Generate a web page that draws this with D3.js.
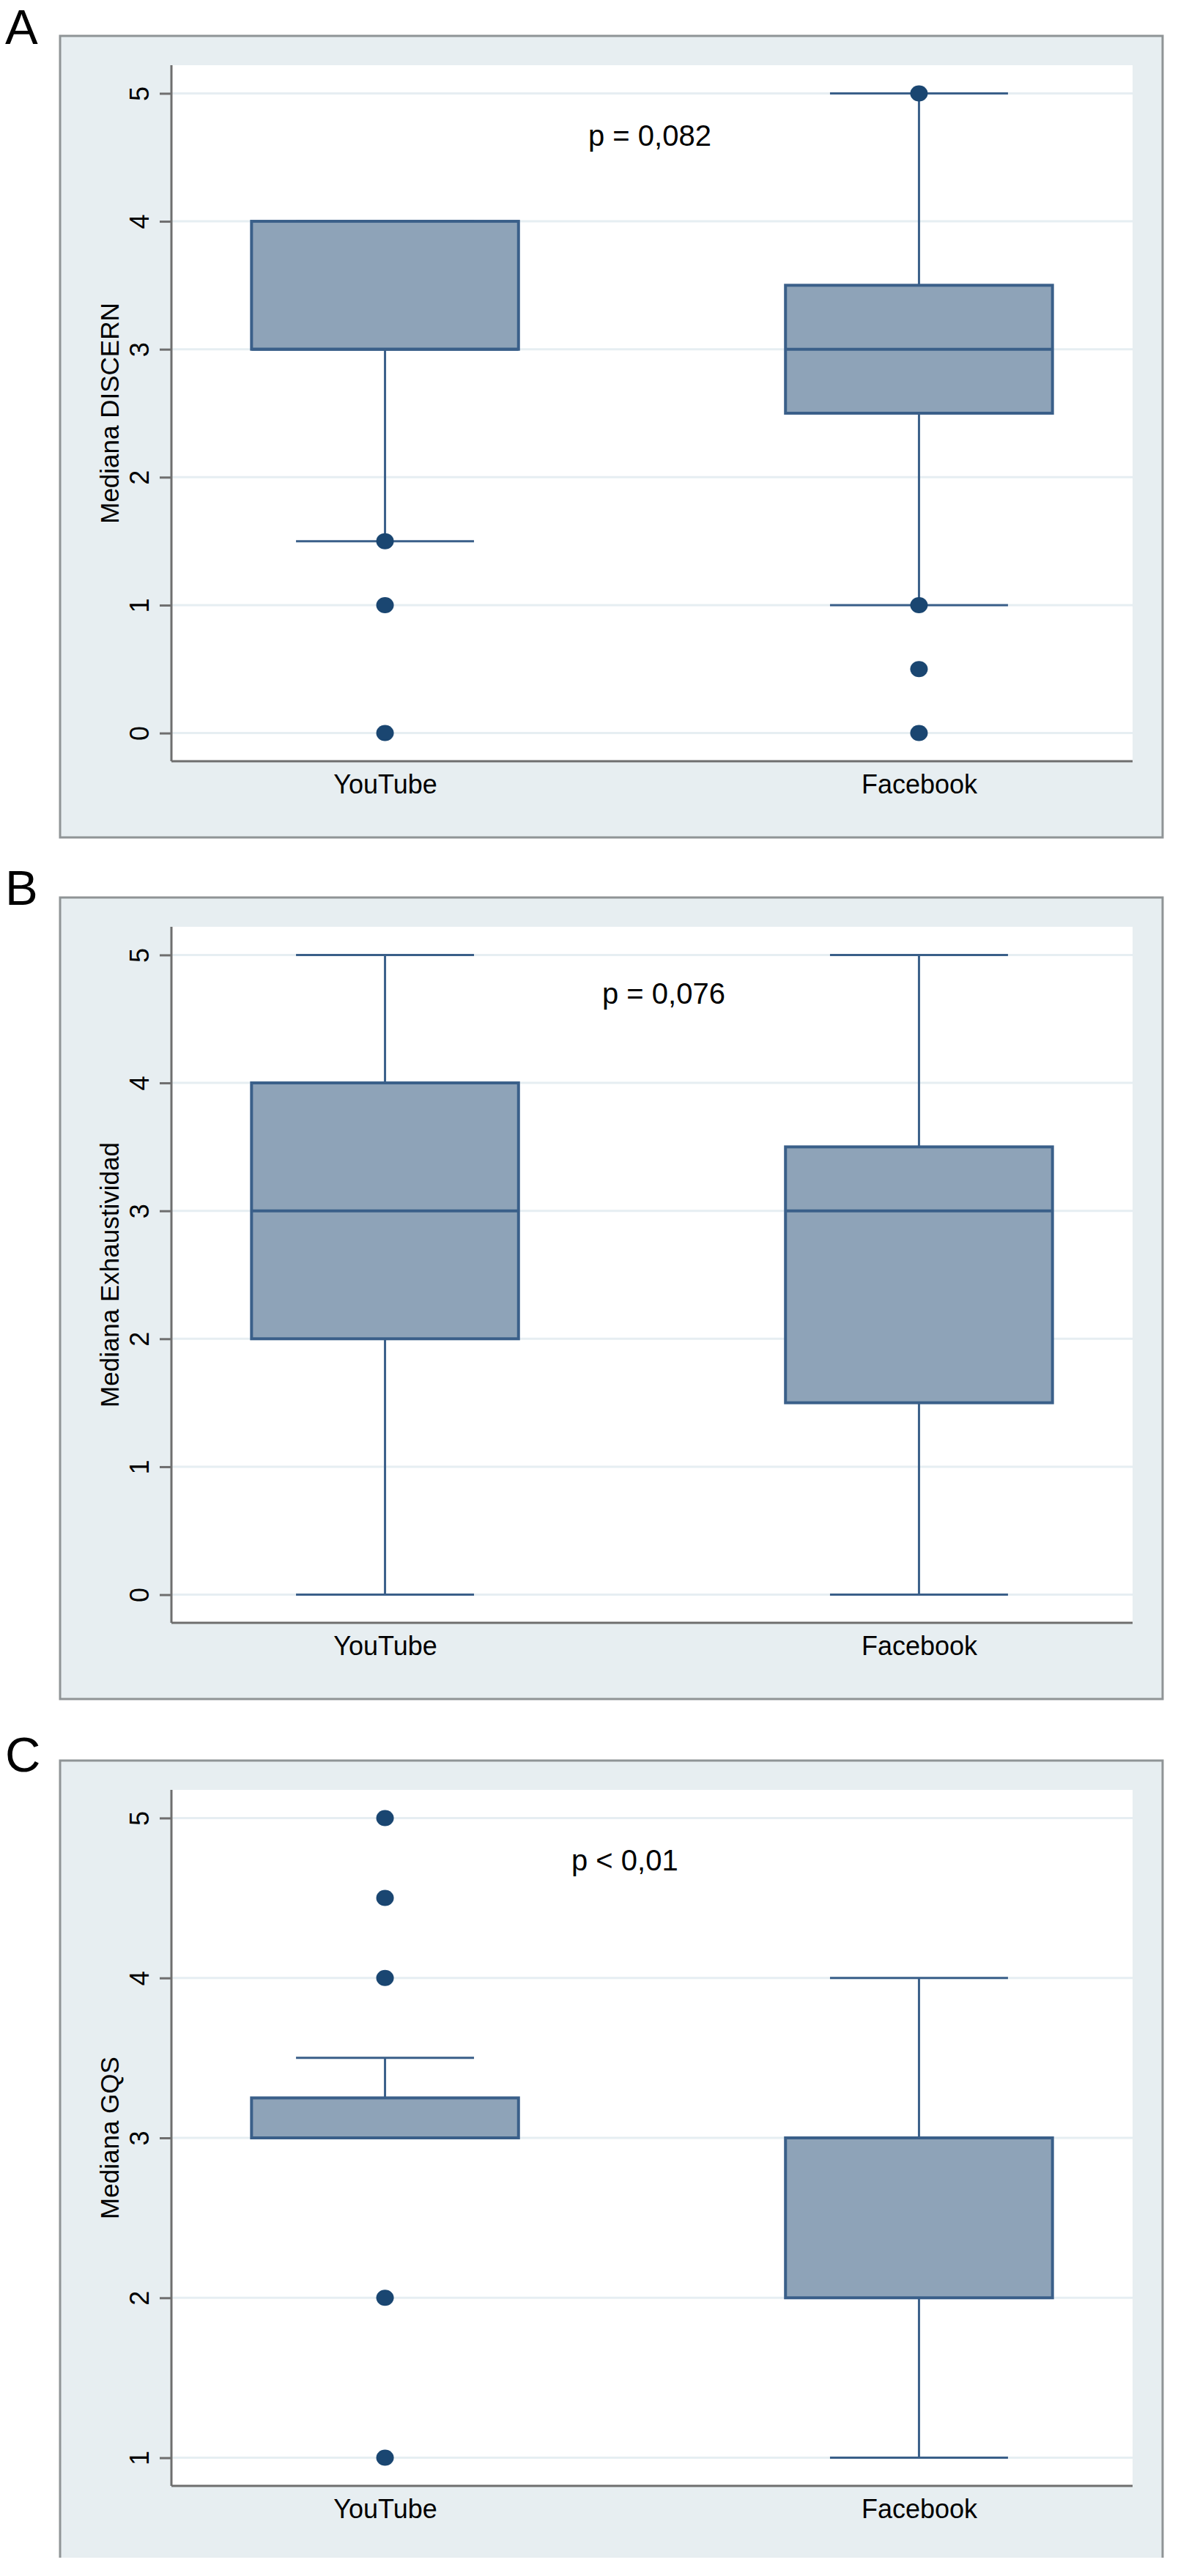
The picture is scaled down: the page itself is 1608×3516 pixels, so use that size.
<!DOCTYPE html>
<html>
<head>
<meta charset="utf-8">
<script src="https://cdn.jsdelivr.net/npm/d3@7"></script>
<style>
  body { margin: 0; background: #fff; }
  svg { display: block; font-family: "Liberation Sans", Arial, Helvetica, sans-serif; }
</style>
</head>
<body>
<svg id="chart"></svg>
<script>
// categories shared by all three panels
const groups = ["YouTube", "Facebook"];
const panelLetters = ["A", "B", "C"];
const yTitles = ["Mediana DISCERN", "Mediana Exhaustividad", "Mediana GQS"];
const pTexts = ["p = 0,082", "p = 0,076", "p < 0,01"];

// y tick labels per panel
const ticksA = [0, 1, 2, 3, 4, 5];
const ticksB = [0, 1, 2, 3, 4, 5];
const ticksC = [1, 2, 3, 4, 5];

// box stats, one value per group (YouTube, Facebook)
const discernLo = [1.5, 1];
const discernQ1 = [3, 2.5];
const discernMed = [3, 3];
const discernQ3 = [4, 3.5];
const discernHi = [4, 5];
const discernOut = [[1.5, 1, 0], [5, 1, 0.5, 0]];

const exhLo = [0, 0];
const exhQ1 = [2, 1.5];
const exhMed = [3, 3];
const exhQ3 = [4, 3.5];
const exhHi = [5, 5];
const exhOut = [[], []];

const gqsLo = [3, 1];
const gqsQ1 = [3, 2];
const gqsMed = [3, 3];
const gqsQ3 = [3.25, 3];
const gqsHi = [3.5, 4];
const gqsOut = [[5, 4.5, 4, 2, 1], []];

function buildRows(lo, q1, med, q3, hi, out) {
  return groups.map((g, i) => ({ group: g, lo: lo[i], q1: q1[i], med: med[i], q3: q3[i], hi: hi[i], out: out[i] }));
}

const panels = [
  { rows: buildRows(discernLo, discernQ1, discernMed, discernQ3, discernHi, discernOut), ticks: ticksA },
  { rows: buildRows(exhLo, exhQ1, exhMed, exhQ3, exhHi, exhOut), ticks: ticksB },
  { rows: buildRows(gqsLo, gqsQ1, gqsMed, gqsQ3, gqsHi, gqsOut), ticks: ticksC }
];

// layout only
const W = 1608, H = 3516;
const panelTops = [49, 1225, 2403];
const letterBase = [60, 1235, 2418];
const pPos = [[569, 110], [588, 105], [546, 110]];
const cropBottom = [null, null, 3491]; // last panel is cut off at the image edge

class BoxPanel {

  constructor(_config) {
    this.config = {
      parent: _config.parent,
      top: _config.top,
      left: 82,
      width: 1505,
      height: 1094,
      margin: { top: 40, bottom: 104, right: 41, left: 152 },
      letter: _config.letter,
      letterY: _config.letterY,
      title: _config.title,
      pText: _config.pText,
      pPos: _config.pPos,
      crop: _config.crop,
      rows: _config.rows,
      ticks: _config.ticks
    }
    this.initVis();
  }

  initVis() {
    let vis = this;
    const c = vis.config;

    vis.innerW = c.width - c.margin.left - c.margin.right;
    vis.innerH = c.height - c.margin.top - c.margin.bottom;

    // panel letter
    c.parent.append("text")
      .attr("x", 7)
      .attr("y", c.letterY)
      .attr("font-size", 67)
      .attr("fill", "#000")
      .text(c.letter);

    // graph region (bluish grey) and border
    const h = c.crop ? c.crop - c.top : c.height;
    vis.g = c.parent.append("g").attr("transform", `translate(${c.left},${c.top})`);
    vis.g.append("rect")
      .attr("width", c.width)
      .attr("height", h)
      .attr("fill", "#e7eef1");
    const border = c.crop
      ? `M0,${h}V0H${c.width}V${h}`
      : `M0,0H${c.width}V${h}H0Z`;
    vis.g.append("path")
      .attr("d", border)
      .attr("fill", "none")
      .attr("stroke", "#8f9496")
      .attr("stroke-width", 3);

    vis.plot = vis.g.append("g").attr("transform", `translate(${c.margin.left},${c.margin.top})`);
    vis.plot.append("rect")
      .attr("width", vis.innerW)
      .attr("height", vis.innerH)
      .attr("fill", "#fff");

    const tMin = d3.min(c.ticks), tMax = d3.max(c.ticks);
    const pad = (tMax - tMin) * 0.044;
    vis.y = d3.scaleLinear().domain([tMin - pad, tMax + pad]).range([vis.innerH, 0]);
    vis.x = d3.scalePoint().domain(groups).range([0, vis.innerW]).padding(0.4);

    vis.updateVis();
  }

  updateVis() {
    let vis = this;
    vis.step = vis.x.step();
    vis.renderVis();
  }

  renderVis() {
    let vis = this;
    const c = vis.config;
    const boxW = vis.step * 0.5, capW = vis.step / 3;
    const lineCol = "#3a5f89";

    // grid lines
    vis.plot.selectAll(".grid")
      .data(c.ticks)
      .join("line")
      .attr("class", "grid")
      .attr("x1", 0).attr("x2", vis.innerW)
      .attr("y1", d => vis.y(d)).attr("y2", d => vis.y(d))
      .attr("stroke", "#e6eef2")
      .attr("stroke-width", 3);

    // y axis
    const yAxis = vis.plot.append("g")
      .call(d3.axisLeft(vis.y).tickValues(c.ticks).tickSize(16).tickFormat(d3.format("d")));
    yAxis.select(".domain").remove();
    yAxis.selectAll(".tick line").attr("stroke", "#6e6e6e").attr("stroke-width", 3);
    yAxis.selectAll(".tick text")
      .attr("x", null).attr("dy", null)
      .attr("transform", "translate(-31,0) rotate(-90)")
      .attr("text-anchor", "middle")
      .attr("font-size", 36)
      .attr("fill", "#000");

    // x axis labels
    const xAxis = vis.plot.append("g")
      .attr("transform", `translate(0,${vis.innerH})`)
      .call(d3.axisBottom(vis.x).tickSize(0).tickPadding(0));
    xAxis.select(".domain").remove();
    xAxis.selectAll(".tick text")
      .attr("y", 44).attr("dy", null)
      .attr("font-size", 36)
      .attr("fill", "#000");

    // axis lines
    vis.plot.append("line")
      .attr("x1", 0).attr("x2", 0).attr("y1", 0).attr("y2", vis.innerH)
      .attr("stroke", "#6e6e6e").attr("stroke-width", 3);
    vis.plot.append("line")
      .attr("x1", 0).attr("x2", vis.innerW).attr("y1", vis.innerH).attr("y2", vis.innerH)
      .attr("stroke", "#6e6e6e").attr("stroke-width", 3);

    // y title
    vis.plot.append("text")
      .attr("transform", `translate(-72,${vis.innerH / 2}) rotate(-90)`)
      .attr("text-anchor", "middle")
      .attr("font-size", 35)
      .attr("fill", "#000")
      .text(c.title);

    const boxes = vis.plot.selectAll(".box")
      .data(c.rows)
      .join("g")
      .attr("class", "box")
      .attr("transform", d => `translate(${vis.x(d.group)},0)`);

    // whiskers
    boxes.append("line")
      .attr("y1", d => vis.y(d.q3)).attr("y2", d => vis.y(d.hi))
      .attr("stroke", lineCol).attr("stroke-width", 3);
    boxes.append("line")
      .attr("y1", d => vis.y(d.q1)).attr("y2", d => vis.y(d.lo))
      .attr("stroke", lineCol).attr("stroke-width", 3);
    boxes.selectAll(".cap")
      .data(d => [d.lo, d.hi])
      .join("line")
      .attr("class", "cap")
      .attr("x1", -capW / 2).attr("x2", capW / 2)
      .attr("y1", d => vis.y(d)).attr("y2", d => vis.y(d))
      .attr("stroke", lineCol).attr("stroke-width", 3);

    // box
    boxes.append("rect")
      .attr("x", -boxW / 2)
      .attr("width", boxW)
      .attr("y", d => vis.y(d.q3))
      .attr("height", d => vis.y(d.q1) - vis.y(d.q3))
      .attr("fill", "#8ea3b8")
      .attr("stroke", lineCol)
      .attr("stroke-width", 4);
    boxes.append("line")
      .attr("x1", -boxW / 2).attr("x2", boxW / 2)
      .attr("y1", d => vis.y(d.med)).attr("y2", d => vis.y(d.med))
      .attr("stroke", lineCol).attr("stroke-width", 4);

    // outside values
    boxes.selectAll(".out")
      .data(d => d.out)
      .join("ellipse")
      .attr("class", "out")
      .attr("cy", d => vis.y(d))
      .attr("rx", 12).attr("ry", 11)
      .attr("fill", "#1a4671");

    // p value
    vis.plot.append("text")
      .attr("x", c.pPos[0])
      .attr("y", c.pPos[1])
      .attr("font-size", 40)
      .attr("fill", "#000")
      .text(c.pText);
  }
}

const svg = d3.select("#chart").attr("width", W).attr("height", H);

panels.forEach((p, i) => {
  new BoxPanel({
    parent: svg,
    top: panelTops[i],
    letter: panelLetters[i],
    letterY: letterBase[i],
    title: yTitles[i],
    pText: pTexts[i],
    pPos: pPos[i],
    crop: cropBottom[i],
    rows: p.rows,
    ticks: p.ticks
  });
});
</script>
</body>
</html>
